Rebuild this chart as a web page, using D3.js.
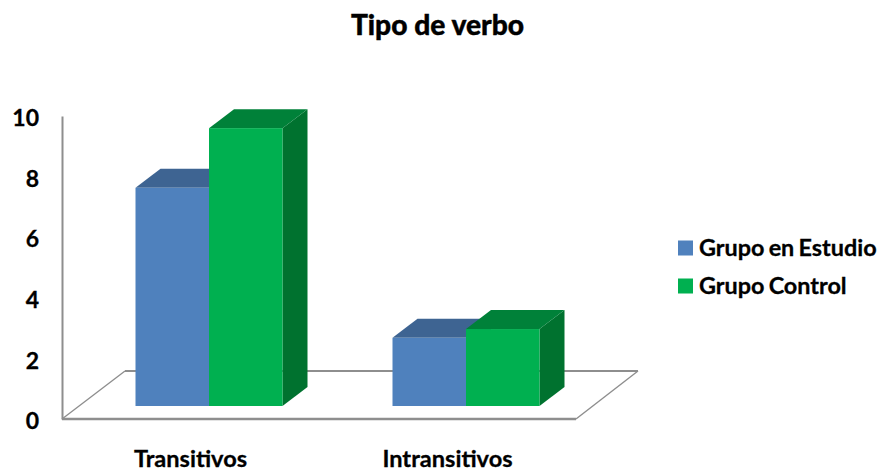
<!DOCTYPE html>
<html><head><meta charset="utf-8">
<script src="https://cdn.jsdelivr.net/npm/d3@7"></script>
<style>html,body{margin:0;padding:0;background:#fff}svg{display:block}text{font-family:Lato,"Open Sans",sans-serif;fill:#000}</style>
</head><body><div id="c"></div>
<script>
const title = "Tipo de verbo";
const categories = ["Transitivos","Intransitivos"];
const seriesNames = ["Grupo en Estudio","Grupo Control"];
const estudio = [7.2,2.25];
const control = [9.17,2.54];
const yTicks = [0,2,4,6,8,10];
const colors = {front:["#4f81bd","#00b050"],top:["#3e6492","#008139"],side:["#335378","#00722f"]};

const W=879,H=471;
const svg=d3.select("#c").append("svg").attr("width",W).attr("height",H);
const depth={x:25,y:-19};
const floorBack={x:63,y:-48};
const axisX=62, frontL=62, frontR=576, y0=419, yTop=116, base=406;
const y=d3.scaleLinear().domain([0,10]).range([y0,yTop]);
const h=v=>y0-y(v);
const x0=d3.scaleBand().domain(categories).range([frontL,frontR]);
const x1=d3.scaleBand().domain(seriesNames).range([73.5,220.5]);
const poly=p=>p.map(a=>a.join(",")).join(" ");

// floor
svg.append("polygon").attr("points",poly([[frontL,y0],[frontL+floorBack.x,y0+floorBack.y],[638,y0+floorBack.y],[frontR,y0]]))
  .attr("fill","#fff").attr("stroke","none");
const lines=[[[frontL,y0],[frontL+floorBack.x,y0+floorBack.y],1.4],[[frontL+floorBack.x,y0+floorBack.y],[638,y0+floorBack.y],1.8],[[638,y0+floorBack.y],[frontR,y0],1.4],[[frontL,y0],[frontR,y0],2.6]];
lines.forEach(l=>svg.append("line").attr("x1",l[0][0]).attr("y1",l[0][1]).attr("x2",l[1][0]).attr("y2",l[1][1]).attr("stroke","#8e8e8e").attr("stroke-width",l[2]));

// y axis
const ax=svg.append("g").attr("transform",`translate(${axisX},0)`).call(d3.axisLeft(y).tickValues(yTicks).tickSize(0).tickPadding(23));
ax.select(".domain").attr("stroke","#8e8e8e").attr("stroke-width",2);
ax.selectAll("text").attr("font-size",23).attr("font-weight",700).attr("fill","#000").attr("dy","0.42em").attr("stroke","#000").attr("stroke-width",0.3);

// bars
[estudio,control].forEach((vals,s)=>{
  categories.forEach((c,i)=>{
    const L=x0(c)+x1(seriesNames[s]), w=x1.bandwidth(), R=L+w, T=base-h(vals[i]);
    const g=svg.append("g");
    g.append("polygon").attr("points",poly([[R,T],[R+depth.x,T+depth.y],[R+depth.x,base+depth.y],[R,base]])).attr("fill",colors.side[s]);
    g.append("polygon").attr("points",poly([[L,T],[L+depth.x,T+depth.y],[R+depth.x,T+depth.y],[R,T]])).attr("fill",colors.top[s]);
    g.append("rect").attr("x",L).attr("y",T).attr("width",w).attr("height",h(vals[i])).attr("fill",colors.front[s]);
  });
});

// category labels
categories.forEach(c=>svg.append("text").attr("x",x0(c)+x0.bandwidth()/2).attr("y",467).attr("text-anchor","middle").attr("font-size",23.6).attr("font-weight",700).attr("stroke","#000").attr("stroke-width",0.3).text(c));

// title
svg.append("text").attr("x",437.5).attr("y",35).attr("text-anchor","middle").attr("font-size",28.2).attr("font-weight",900).attr("stroke","#000").attr("stroke-width",0.4).text(title);

// legend
seriesNames.forEach((n,i)=>{
  const ly=248+i*38;
  svg.append("rect").attr("x",678).attr("y",ly-7.5).attr("width",15).attr("height",15).attr("fill",colors.front[i]);
  svg.append("text").attr("x",699).attr("y",ly+7.5).attr("font-size",23.4).attr("font-weight",700).attr("word-spacing",-1.5).attr("stroke","#000").attr("stroke-width",0.3).text(n);
});
</script></body></html>
